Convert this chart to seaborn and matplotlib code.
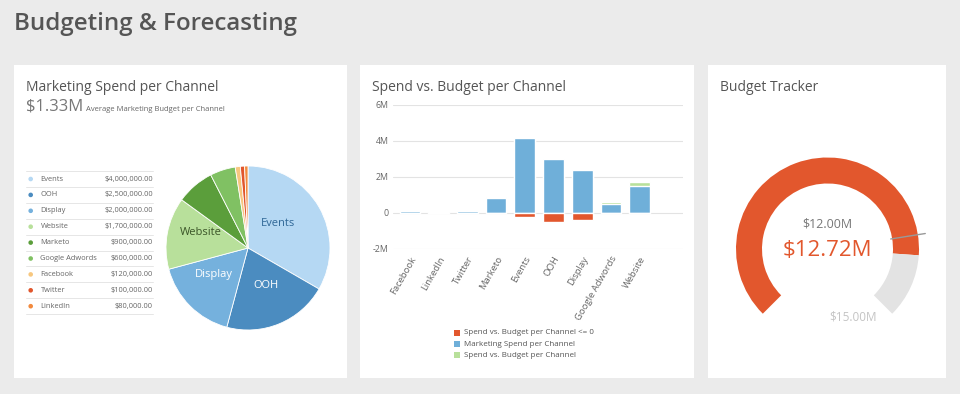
import numpy as np
import pandas as pd
import matplotlib
matplotlib.use("Agg")
import matplotlib.pyplot as plt
from matplotlib.patches import Rectangle, Wedge, Circle
import seaborn as sns

# pie data (spend per channel)
channels = ["Events", "OOH", "Display", "Website", "Marketo", "Google Adwords",
            "Facebook", "Twitter", "LinkedIn"]
spend = [4000000, 2500000, 2000000, 1700000, 900000, 600000, 120000, 100000, 80000]
pie_colors = ["#b5d8f3", "#4b8cc0", "#75b1dd", "#b8e09b", "#5b9e3b", "#80c163",
              "#f7c77f", "#e1562c", "#f28a3e"]

# bar data (spend vs budget)
bar_cats = ["Facebook", "LinkedIn", "Twitter", "Marketo", "Events", "OOH", "Display",
            "Google Adwords", "Website"]
bar_spend = [0.12, 0.08, 0.10, 0.83, 4.19, 3.00, 2.38, 0.52, 1.50]
bar_over = [0.0, 0.0, 0.0, 0.06, 0.0, 0.0, 0.0, 0.08, 0.20]
bar_under = [0.0, 0.0, 0.0, 0.0, -0.20, -0.50, -0.40, 0.0, 0.0]
bar_ticks = [-2, 0, 2, 4, 6]
bar_tick_labels = ["-2M", "0", "2M", "4M", "6M"]

# gauge data
gauge_max = 15.0
gauge_target = 12.0
gauge_value = 12.72

sns.set_theme(style="white")
plt.rcParams["font.family"] = ["Open Sans", "DejaVu Sans"]

W, H = 960, 394
fig = plt.figure(figsize=(9.6, 3.94), dpi=100)

# background axes in pixel units (y up)
bg = fig.add_axes([0, 0, 1, 1])
bg.set_xlim(0, W)
bg.set_ylim(0, H)
bg.set_facecolor("#ebebeb")
bg.set_xticks([])
bg.set_yticks([])
for s in bg.spines.values():
    s.set_visible(False)


def py(y):
    return H - y


for x0, x1 in [(14, 347), (360, 694), (708, 946)]:
    bg.add_patch(Rectangle((x0, py(378)), x1 - x0, 313, facecolor="white", edgecolor="none"))

bg.text(14, py(29.5), "Budgeting & Forecasting", fontsize=17.4, color="#555555",
        fontweight="semibold", va="baseline", ha="left")
bg.text(26, py(87), "Marketing Spend per Channel", fontsize=10, color="#555555", va="center")
bg.text(372, py(87), "Spend vs. Budget per Channel", fontsize=10, color="#555555", va="center")
bg.text(720, py(87), "Budget Tracker", fontsize=10, color="#555555", va="center")
bg.text(26, py(110.5), "$%.2fM" % (np.mean(spend) / 1e6), fontsize=12, color="#777777",
        va="baseline")
bg.text(86, py(110.5), "Average Marketing Budget per Channel", fontsize=5.5, color="#666666",
        va="baseline")

# legend table
row_y = [179 + 15.9 * i for i in range(len(channels))]
for i, (name, val, col) in enumerate(zip(channels, spend, pie_colors)):
    y = row_y[i]
    bg.add_patch(Circle((30.7, py(y)), 2.3, facecolor=col, edgecolor="none"))
    bg.text(40.5, py(y), name, fontsize=5.4, color="#666666", va="center")
    bg.text(152.7, py(y), "${:,.2f}".format(val), fontsize=5.4, color="#666666",
            va="center", ha="right")
for i in range(len(channels) + 1):
    y = 171 + 15.9 * i
    bg.plot([26, 153], [py(y), py(y)], color="#e6e6e6", lw=0.7)

# gauge
cx, cy = 827.5, py(249)
r_out, width = 91.5, 26
a_start = 225
a_val = a_start - gauge_value / gauge_max * 270
a_end = a_start - 270
bg.add_patch(Wedge((cx, cy), r_out, a_val, a_start, width=width, facecolor="#e2572d", edgecolor="none"))
bg.add_patch(Wedge((cx, cy), r_out, a_end, a_val, width=width, facecolor="#e3e3e3", edgecolor="none"))
a_t = np.deg2rad(a_start - gauge_target / gauge_max * 270)
bg.plot([cx + 64 * np.cos(a_t), cx + 99 * np.cos(a_t)],
        [cy + 64 * np.sin(a_t), cy + 99 * np.sin(a_t)], color="#999999", lw=1)
bg.text(827, py(224), "$%.2fM" % gauge_target, fontsize=9, color="#777777", ha="center", va="center")
bg.text(827, py(250), "$%.2fM" % gauge_value, fontsize=16, color="#e2572d", ha="center", va="center")
bg.text(853, py(317), "$%.2fM" % gauge_max, fontsize=8.5, color="#c4c4c4", ha="center", va="center")

# pie
pcx, pcy, pr = 248, 248, 82
pax = fig.add_axes([(pcx - pr) / W, (H - pcy - pr) / H, 2 * pr / W, 2 * pr / H])
pax.pie(spend, colors=pie_colors, startangle=90, counterclock=False,
        wedgeprops=dict(edgecolor="white", linewidth=0.6))
pax.set_xlim(-1, 1)
pax.set_ylim(-1, 1)
pax.set_aspect("auto")
for txt, x, y, c in [("Events", 278, 223, "#2f6796"), ("OOH", 266, 285, "white"),
                     ("Display", 214, 274, "white"), ("Website", 201, 232, "#3b5528")]:
    pax.text((x - pcx) / pr, (pcy - y) / pr, txt, fontsize=8, color=c, ha="center", va="center")

# bars
df = pd.DataFrame({"channel": bar_cats, "spend": bar_spend,
                   "top": np.array(bar_spend) + np.array(bar_over), "under": bar_under})
bax = fig.add_axes([393 / W, (H - 249) / H, (683 - 393) / W, 144 / H])
sns.barplot(data=df, x="channel", y="top", color="#b8e09b", saturation=1, width=0.72, ax=bax)
sns.barplot(data=df, x="channel", y="spend", color="#6fafd9", saturation=1, width=0.72, ax=bax)
sns.barplot(data=df, x="channel", y="under", color="#e2572d", saturation=1, width=0.72, ax=bax)
bax.set_xlim(-0.59, 9.51)
bax.set_ylim(-2, 6)
bax.set_yticks(bar_ticks)
bax.set_yticklabels(bar_tick_labels, fontsize=6.3, color="#666666")
bax.set_xticks(range(len(bar_cats)))
bax.set_xticklabels(bar_cats, rotation=60, ha="right", rotation_mode="anchor",
                    fontsize=6.8, color="#666666")
bax.tick_params(axis="y", length=0, pad=3)
bax.tick_params(axis="x", length=0, pad=4)
bax.set_xlabel("")
bax.set_ylabel("")
bax.grid(axis="y", color="#e3e3e3", lw=0.8)
bax.set_axisbelow(True)
bax.set_facecolor("none")
for s in bax.spines.values():
    s.set_visible(False)

for y, col, lab in [(332.7, "#e2572d", "Spend vs. Budget per Channel <= 0"),
                    (344, "#6fafd9", "Marketing Spend per Channel"),
                    (355.3, "#b8e09b", "Spend vs. Budget per Channel")]:
    bg.add_patch(Rectangle((453.5, py(y) - 3), 6, 6, facecolor=col, edgecolor="none"))
    bg.text(463.5, py(y), lab, fontsize=5.8, color="#555555", va="center")

fig.savefig("out.png", dpi=100)
